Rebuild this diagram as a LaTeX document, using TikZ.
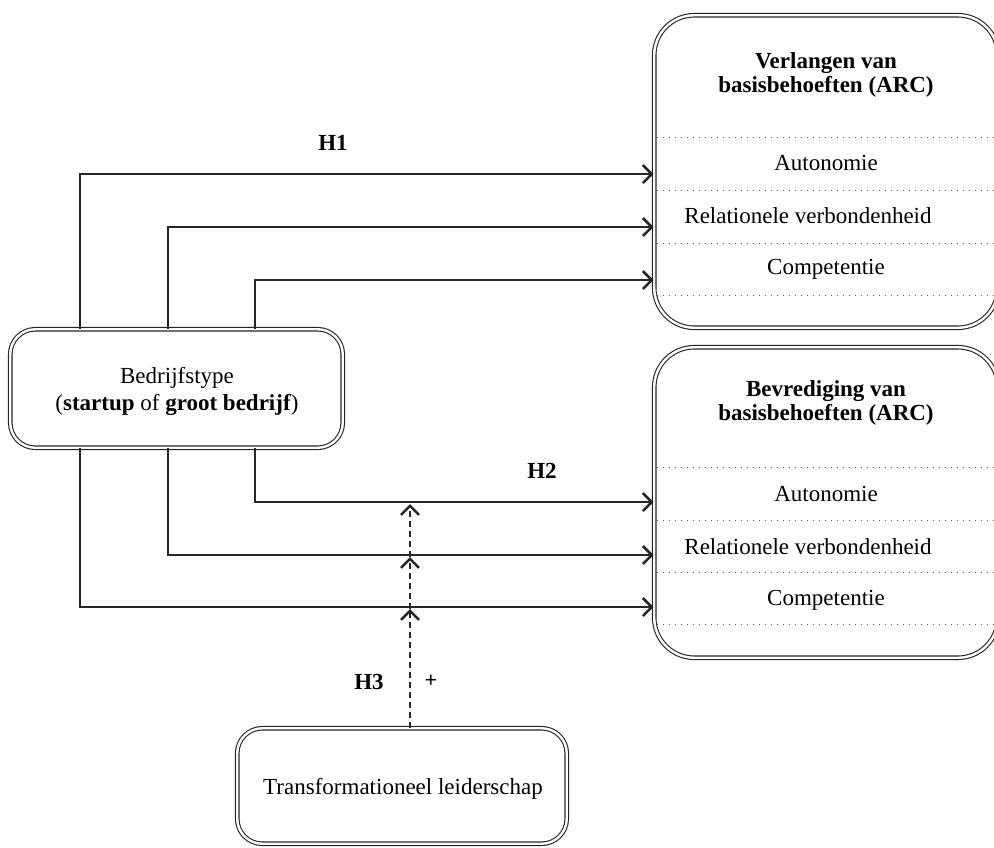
\documentclass[tikz,border=0pt]{standalone}
\usepackage{fontspec}
\setmainfont{Liberation Serif}
\usetikzlibrary{arrows.meta,calc}
\begin{document}
\begin{tikzpicture}[x=1pt,y=-1pt,
  bigbox/.style={draw=black!85, double=white, double distance=2.4pt, line width=1.1pt, rounded corners=40pt, inner sep=0pt},
  smallbox/.style={draw=black!85, double=white, double distance=2.4pt, line width=1.1pt, rounded corners=25pt, inner sep=0pt},
  txt/.style={font=\fontsize{23}{24}\selectfont, align=center, inner sep=0pt},
  lbl/.style={font=\fontsize{23}{24}\selectfont\bfseries, inner sep=0pt},
  conn/.style={draw=black!85, line width=1.6pt, -{Straight Barb[length=9pt,width=18pt,line width=2.6pt]}},
  dasharr/.style={draw=black!85, line width=1.6pt, dash pattern=on 6pt off 4pt, -{Straight Barb[length=9pt,width=18pt,line width=2.6pt]}},
  sep/.style={draw=black!65, line width=1pt, dash pattern=on 1.2pt off 4.8pt}
]
\useasboundingbox (0,0) rectangle (994,847);
\clip (0,0) rectangle (994,847);

% boxes
\node[bigbox, minimum width=343.75pt, minimum height=312.5pt] (v) at (826.1,171.5) {};
\node[bigbox, minimum width=343.75pt, minimum height=310.5pt] (w) at (826.1,502.5) {};
\node[smallbox, minimum width=332.5pt, minimum height=118.5pt] (b) at (176.5,388.5) {};
\node[smallbox, minimum width=329.5pt, minimum height=115.5pt] (t) at (402,786) {};

% separators
\foreach \yy in {137,190,243,295} \draw[sep] (v.west |- 0,\yy) ++(3,0) -- (v.east |- 0,\yy);
\foreach \yy in {467,520,572,624} \draw[sep] (w.west |- 0,\yy) ++(3,0) -- (w.east |- 0,\yy);

% texts
\node[txt] (vt) at (826,75) {\textbf{Verlangen van}\\\textbf{basisbehoeften (ARC)}};
\node[txt] (va) at (826,163) {Autonomie};
\node[txt] (vr) at (808,216) {Relationele verbondenheid};
\node[txt] (vc) at (826,269) {Competentie};
\node[txt] (wt) at (826,403) {\textbf{Bevrediging van}\\\textbf{basisbehoeften (ARC)}};
\node[txt] (wa) at (826,494) {Autonomie};
\node[txt] (wr) at (808,547) {Relationele verbondenheid};
\node[txt] (wc) at (826,600) {Competentie};
\node[txt, font=\fontsize{23}{27}\selectfont] (bt) at (177,391) {Bedrijfstype\\(\textbf{startup} of \textbf{groot bedrijf})};
\node[txt] (tt) at (403,789) {Transformationeel leiderschap};

% labels
\node[lbl] (h1) at (333,143) {H1};
\node[lbl] (h2) at (542,471) {H2};
\node[lbl] (h3) at (369,682) {H3};
\node[lbl, font=\fontsize{22}{22}\selectfont\bfseries] (plus) at (431,681) {+};

% connectors H1
\draw[conn] (b.north -| 80,0) |- (v.west |- 0,174);
\draw[conn] (b.north -| 168,0) |- (v.west |- 0,227);
\draw[conn] (b.north -| 255,0) |- (v.west |- 0,280);
% connectors H2
\draw[conn] (b.south -| 255,0) |- (w.west |- 0,502);
\draw[conn] (b.south -| 168,0) |- (w.west |- 0,555);
\draw[conn] (b.south -| 80,0) |- (w.west |- 0,607);

% moderation H3
\coordinate (m1) at (410,504);
\coordinate (m2) at (410,557);
\coordinate (m3) at (410,609);
\draw[dasharr] (t.north -| m3) -- (m3);
\draw[dasharr] (m3) -- (m2);
\draw[dasharr] (m2) -- (m1);
\end{tikzpicture}
\end{document}
